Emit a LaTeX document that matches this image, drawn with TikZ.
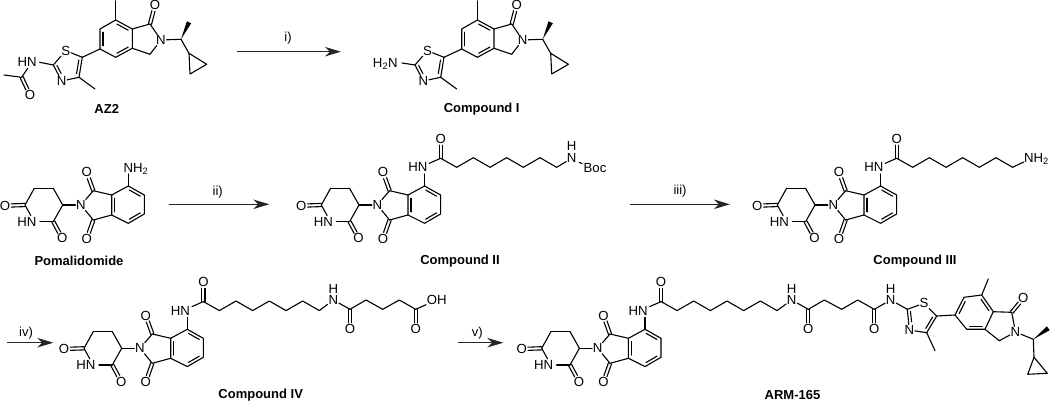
\documentclass[tikz,border=0pt]{standalone}
\usepackage{fontspec}
\setmainfont{Liberation Sans}
\usetikzlibrary{calc,arrows.meta}
\tikzset{
  bond/.style={draw=black,line width=1.1pt,line cap=round,line join=round},
  atom/.style={font=\fontsize{13.2}{14}\selectfont,inner sep=0.6pt,text height=9.4pt,text depth=0pt,text=black},
  molname/.style={font=\bfseries\fontsize{13}{15}\selectfont,inner sep=0pt,text=black},
  step label/.style={font=\fontsize{13}{14}\selectfont,inner sep=0pt},
  rxn/.style={draw=black!85,line width=1.1pt,-{Stealth[length=16pt,width=9.5pt,inset=5pt]}}
}
\newcommand{\cc}[2]{\coordinate (#1) at (#2);}
\newcommand{\bb}[2]{\draw[bond] (#1) -- (#2);}
% inner line of a double bond
\newcommand{\dbx}[5]{\draw[bond] ($(#1)!#4!(#2)!#3pt!90:(#2)$) -- ($(#2)!#5!(#1)!#3pt!-90:(#1)$);}
\newcommand{\dbin}[3]{\dbx{#1}{#2}{#3}{.16}{.16}}
% symmetric C=O
\newcommand{\dbo}[2]{%
  \draw[bond,shorten >=6.2pt] ($(#1)!1.6pt!90:(#2)$) -- ($(#2)!1.6pt!-90:(#1)$);
  \draw[bond,shorten >=6.2pt] ($(#1)!1.6pt!-90:(#2)$) -- ($(#2)!1.6pt!90:(#1)$);}
\newcommand{\wedgeb}[2]{\fill[black] (#1) -- ($(#2)!2.4pt!90:(#1)$) -- ($(#2)!2.4pt!-90:(#1)$) -- cycle;}
% thalidomide core; origin at the phthalimide N
\newcommand{\thalid}{%
  \node[atom] (N) at (0,0) {N};
  \node[atom] (O1) at (-76,0.7) {O};
  \node[atom] (O2) at (-18.7,33.3) {O};
  \node[atom] (Ou) at (5.7,-32.7) {O};
  \node[atom] (Ol) at (5.7,33.7) {O};
  \node[atom] (HNi) at (-54,16.7) {HN};
  \cc{G6}{-56,0}\cc{G5}{-46.7,-16.7}\cc{G4}{-27.7,-16.7}\cc{G3}{-18.3,0}\cc{G2}{-27.7,16.7}
  \cc{Ga}{-50.2,10.5}\cc{Gb}{-41,16.7}
  \cc{Cu}{12.3,-14.3}\cc{Cl}{12.3,15}
  \cc{R1}{30.7,-10}\cc{R2}{47.3,-19}\cc{R3}{63.3,-10}\cc{R4}{63.3,9}\cc{R5}{47.3,18.3}\cc{R6}{30.7,10}
  \bb{G6}{G5}\bb{G5}{G4}\bb{G4}{G3}\bb{G3}{G2}\bb{G6}{Ga}\bb{G2}{Gb}
  \dbo{G6}{O1}\dbo{G2}{O2}
  \bb{G3}{N}\bb{N}{Cu}\bb{N}{Cl}
  \dbo{Cu}{Ou}\dbo{Cl}{Ol}
  \bb{Cu}{R1}\bb{Cl}{R6}
  \draw[bond] (R1) -- (R2) -- (R3) -- (R4) -- (R5) -- (R6) -- cycle;
  \dbin{R2}{R3}{-3}\dbin{R4}{R5}{-3}\dbin{R6}{R1}{-3}
}
% amide and seven-carbon chain off the core
\newcommand{\linker}{%
  \node[atom] (HNo) at (40.5,-37.7) {HN};
  \node[atom] (Oc) at (63.4,-66) {O};
  \cc{Na}{47.3,-31}\cc{Nb}{52,-41.7}\cc{Co}{63.4,-46.7}
  \cc{L1}{79.4,-37.7}\cc{L2}{96,-47.3}\cc{L3}{112.7,-37.7}\cc{L4}{129.3,-47.3}
  \cc{L5}{146,-37.7}\cc{L6}{162.7,-47.3}\cc{L7}{179.3,-37.7}
  \bb{R2}{Na}\bb{Nb}{Co}\dbo{Co}{Oc}
  \draw[bond] (Co) -- (L1) -- (L2) -- (L3) -- (L4) -- (L5) -- (L6) -- (L7);
}
% thiazole / isoindolinone fragment
\newcommand{\azcore}{%
  \node[atom] (S) at (65.7,50.7) {S};
  \node[atom] (Nz) at (61.7,81) {N};
  \node[atom] (O) at (155,5) {O};
  \node[atom] (NL) at (161,40) {N};
  \cc{T2}{53.3,65}\cc{T5}{82.3,57.3}\cc{T4}{79,77.3}\cc{Me4}{95,89}
  \cc{A1}{100,49}\cc{A2}{100,29}\cc{A3}{115.7,20}\cc{Me7}{115.7,1}\cc{A4}{132.3,29}\cc{A5}{132.3,48.3}\cc{A6}{115.7,57.3}
  \cc{Cc}{150,24}\cc{Ch}{150,54.3}\cc{CH}{181,39.3}\cc{Me}{189,22.3}
  \cc{P1}{189,53.3}\cc{P2}{190,74}\cc{P3}{206.7,64.3}
  \bb{T2}{S}\bb{S}{T5}\bb{T5}{T4}\bb{T4}{Nz}\bb{Nz}{T2}\bb{T4}{Me4}\bb{T5}{A1}
  \dbin{T5}{T4}{-3}\dbx{Nz}{T2}{-3}{.38}{.12}
  \draw[bond] (A1) -- (A2) -- (A3) -- (A4) -- (A5) -- (A6) -- cycle;
  \dbin{A1}{A2}{-3}\dbin{A3}{A4}{-3}\dbin{A5}{A6}{-3}
  \bb{A3}{Me7}\bb{A4}{Cc}\dbo{Cc}{O}\bb{Cc}{NL}\bb{NL}{Ch}\bb{Ch}{A5}\bb{NL}{CH}
  \wedgeb{CH}{Me}\bb{CH}{P1}
  \draw[bond] (P1) -- (P2) -- (P3) -- cycle;
}
\begin{document}
\begin{tikzpicture}[x=1pt,y=-1pt]
\useasboundingbox (0,0) rectangle (1050,403);

% --- AZ2
\begin{scope}[name prefix=az-]
  \azcore
  \node[atom] (HN) at (27.2,61.7) {HN};
  \node[atom] (Oa) at (30,95) {O};
  \cc{Ac}{21.7,77.3}\cc{AcM}{4,75}\cc{Na}{27.7,68.3}\cc{Nb}{39.7,62.3}
  \bb{Nb}{T2}\bb{Ac}{Na}\bb{Ac}{AcM}\dbo{Ac}{Oa}
\end{scope}
\node[molname] (lAZ) at (106.7,109) {AZ2};

% --- Compound I
\begin{scope}[xshift=361.7pt,name prefix=one-]
  \azcore
  \node[atom,anchor=east] (H2N) at (36.8,62.5) {H\textsubscript{2}N};
  \cc{Nb}{40.3,63}
  \bb{Nb}{T2}
\end{scope}
\node[molname] (lI) at (481.7,109) {Compound I};

% --- arrow i
\coordinate (a1s) at (237,51.7); \coordinate (a1e) at (341,51.7);
\draw[rxn] (a1s) -- (a1e);
\node[step label] (t1) at (288,38) {i)};

% --- Pomalidomide
\begin{scope}[shift={(81,205)},name prefix=pom-]
  \thalid
  \node[atom,anchor=west] (NH) at (41.7,-37.3) {NH\textsubscript{2}};
  \cc{Nc}{47.3,-31}
  \bb{R2}{Nc}
\end{scope}
\node[molname] (lP) at (79,261) {Pomalidomide};

\coordinate (a2s) at (169,204.3); \coordinate (a2e) at (269.3,204.3);
\draw[rxn] (a2s) -- (a2e);
\node[step label] (t2) at (217.7,192) {ii)};

% --- Compound II
\begin{scope}[shift={(377.3,205)},name prefix=two-]
  \thalid\linker
\end{scope}
\node[atom] (bN) at (571.7,158.3) {N};
\node[atom] (bH) at (571.7,146) {H};
\node[atom] (Boc) at (595,167.7) {Boc};
\coordinate (bx) at (579.3,162.3); \coordinate (by) at (582,163.7);
\draw[bond] (two-L7) -- (bN);
\draw[bond] (bx) -- (by);
\node[molname] (lII) at (460,261) {Compound II};

\coordinate (a3s) at (630,204.3); \coordinate (a3e) at (730,204.3);
\draw[rxn] (a3s) -- (a3e);
\node[step label] (t3) at (680,191) {iii)};

% --- Compound III
\begin{scope}[shift={(833.3,205)},name prefix=three-]
  \thalid\linker
  \node[atom,anchor=west] (NH) at (190,-47.3) {NH\textsubscript{2}};
  \cc{Ne}{190.5,-43}
  \bb{L7}{Ne}
\end{scope}
\node[molname] (lIII) at (915,261) {Compound III};

% --- arrow iv
\coordinate (a4s) at (7.3,342.7); \coordinate (a4e) at (53.3,342.7);
\draw[rxn] (a4s) -- (a4e);
\node[step label] (t4) at (26,332.7) {iv)};

% --- Compound IV
\begin{scope}[shift={(140,348.3)},name prefix=four-]
  \thalid\linker
\end{scope}
\node[atom] (fN) at (333.3,300) {N};
\node[atom] (fH) at (333.3,288.5) {H};
\node[atom] (fO1) at (350,329) {O};
\node[atom] (fO2) at (415.7,329) {O};
\node[atom] (fOH) at (436.7,300) {OH};
\coordinate (fC1) at (350,309.3); \coordinate (fC2) at (366,300); \coordinate (fC3) at (382.7,309.3);
\coordinate (fC4) at (399.3,300); \coordinate (fC5) at (415.7,309.3);
\draw[bond] (four-L7) -- (fN);
\draw[bond] (fN) -- (fC1);
\draw[bond] (fC1) -- (fC2) -- (fC3) -- (fC4) -- (fC5);
\dbo{fC1}{fO1}
\dbo{fC5}{fO2}
\draw[bond] (fC5) -- (fOH);
\node[molname] (lIV) at (260.7,395) {Compound IV};

% --- arrow v
\coordinate (a5s) at (457.7,342.7); \coordinate (a5e) at (503.3,342.7);
\draw[rxn] (a5s) -- (a5e);
\node[step label] (t5) at (477.3,333) {v)};

% --- ARM-165
\begin{scope}[shift={(597.7,348.3)},name prefix=arm-]
  \thalid\linker
\end{scope}
\node[atom] (mN) at (791.7,300) {N};
\node[atom] (mH) at (791.7,288.5) {H};
\node[atom] (mO1) at (808.3,329) {O};
\node[atom] (mO2) at (874.3,329) {O};
\node[atom] (mN2) at (890.7,300) {N};
\node[atom] (mH2) at (890.7,288.5) {H};
\node[atom] (mS) at (924,303.3) {S};
\node[atom] (mNz) at (909.3,330) {N};
\node[atom] (mO3) at (1023.3,298.3) {O};
\node[atom] (mNL) at (1015.5,332) {N};
\coordinate (mC1) at (808.3,309.3); \coordinate (mC2) at (824.3,300); \coordinate (mC3) at (841.7,309.3);
\coordinate (mC4) at (857.7,300); \coordinate (mC5) at (874.3,309.3);
\coordinate (mT2) at (907.3,309.3); \coordinate (mT5) at (936.7,316); \coordinate (mT4) at (926.7,332.7);
\coordinate (mMe4) at (935,350.7);
\coordinate (mA1) at (955,315); \coordinate (mA2) at (964,297.3); \coordinate (mA3) at (981.7,295);
\coordinate (mMe7) at (988.3,279); \coordinate (mA4) at (993.3,311.7); \coordinate (mA5) at (985,329.3);
\coordinate (mA6) at (966.7,329.3);
\coordinate (mCc) at (1011.7,312.3); \coordinate (mCh) at (999.3,340.7); \coordinate (mCH) at (1033.3,339.3);
\coordinate (mMe) at (1048.3,328.3); \coordinate (mP1) at (1034,357.3); \coordinate (mP2) at (1027.7,374.3);
\coordinate (mP3) at (1047.3,373.3);
\draw[bond] (arm-L7) -- (mN);
\draw[bond] (mN) -- (mC1);
\draw[bond] (mC1) -- (mC2) -- (mC3) -- (mC4) -- (mC5);
\dbo{mC1}{mO1}
\dbo{mC5}{mO2}
\draw[bond] (mC5) -- (mN2);
\draw[bond] (mN2) -- (mT2);
\draw[bond] (mT2) -- (mS);
\draw[bond] (mS) -- (mT5);
\draw[bond] (mT5) -- (mT4);
\draw[bond] (mT4) -- (mNz);
\draw[bond] (mNz) -- (mT2);
\draw[bond] (mT4) -- (mMe4);
\draw[bond] (mT5) -- (mA1);
\dbin{mT5}{mT4}{-3}
\dbx{mNz}{mT2}{-3}{.38}{.12}
\draw[bond] (mA1) -- (mA2) -- (mA3) -- (mA4) -- (mA5) -- (mA6) -- cycle;
\dbin{mA1}{mA2}{-3}
\dbin{mA3}{mA4}{-3}
\dbin{mA5}{mA6}{-3}
\draw[bond] (mA3) -- (mMe7);
\draw[bond] (mA4) -- (mCc);
\dbo{mCc}{mO3}
\draw[bond] (mCc) -- (mNL);
\draw[bond] (mNL) -- (mCh);
\draw[bond] (mCh) -- (mA5);
\draw[bond] (mNL) -- (mCH);
\wedgeb{mCH}{mMe}
\draw[bond] (mCH) -- (mP1);
\draw[bond] (mP1) -- (mP2) -- (mP3) -- cycle;
\node[molname] (lARM) at (792.5,395.5) {ARM-165};
\end{tikzpicture}
\end{document}
